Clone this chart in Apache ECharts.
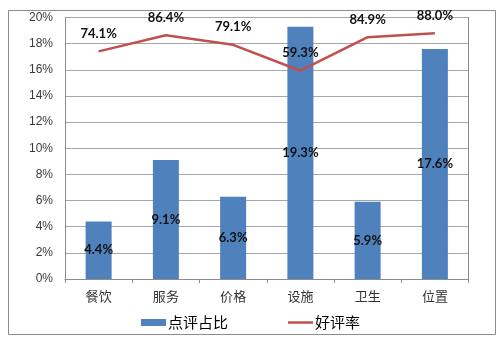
<!DOCTYPE html>
<html>
<head>
<meta charset="utf-8">
<script src="https://cdn.jsdelivr.net/npm/echarts@6/dist/echarts.min.js"></script>
<style>html,body{margin:0;padding:0;background:#fff}#c{width:501px;height:338px}</style>
</head>
<body>
<div id="c"></div>
<script>
var categories = ['餐饮', '服务', '价格', '设施', '卫生', '位置'];
var shareValues = [4.4, 9.1, 6.3, 19.3, 5.9, 17.6];
var goodRateValues = [74.1, 86.4, 79.1, 59.3, 84.9, 88.0];
var shareName = '点评占比';
var rateName = '好评率';

var chart = echarts.init(document.getElementById('c'), null, {renderer: 'canvas'});
var labelFont = {fontFamily: 'Lato', fontWeight: 'bold', fontSize: 13, color: '#111'};
chart.setOption({
  animation: false,
  backgroundColor: '#fff',
  graphic: [{
    type: 'rect', left: 6, top: 8, shape: {x: 0, y: 0, width: 487, height: 324},
    style: {fill: 'none', stroke: '#8c8c8c', lineWidth: 1}, z: -1
  }],
  grid: {left: 65, top: 17.5, right: 32.5, bottom: 59, containLabel: false},
  legend: [{
    left: 136, top: 310, itemWidth: 25, itemHeight: 7, itemGap: 2,
    data: [{name: shareName, icon: 'rect'}],
    textStyle: {fontFamily: 'Noto Sans CJK SC', fontSize: 15, color: '#000', padding: [0, 0, 0, -3]}
  }, {
    left: 283, top: 310, itemWidth: 25, itemHeight: 7,
    data: [{name: rateName, icon: 'path://M0,0H25V2.5H0Z'}],
    itemStyle: {color: '#C0504D'},
    textStyle: {fontFamily: 'Noto Sans CJK SC', fontSize: 15, color: '#000', padding: [0, 0, 0, -3]}
  }],
  xAxis: {
    type: 'category', data: categories, boundaryGap: true,
    axisLine: {lineStyle: {color: '#8c8c8c', width: 1}},
    axisTick: {show: true, length: 4, interval: 0, lineStyle: {color: '#8c8c8c'}},
    axisLabel: {fontFamily: 'Noto Sans CJK SC', fontSize: 13, color: '#333', margin: 11}
  },
  yAxis: [{
    type: 'value', min: 0, max: 20, interval: 2,
    axisLine: {show: true, lineStyle: {color: '#8c8c8c'}},
    axisTick: {show: false},
    splitLine: {lineStyle: {color: '#a6a6a6', width: 1}},
    axisLabel: {formatter: '{value}%', fontFamily: 'Liberation Sans', fontSize: 12, color: '#3a3a3a', margin: 12}
  }, {
    type: 'value', min: -100, max: 100, interval: 20,
    axisLine: {show: true, lineStyle: {color: '#8c8c8c'}},
    axisTick: {show: false},
    splitLine: {show: false},
    axisLabel: {show: false}
  }],
  series: [{
    name: shareName, type: 'bar', data: shareValues, barWidth: 26,
    itemStyle: {color: '#4F81BD'},
    label: Object.assign({show: true, position: 'inside', formatter: function (p) { return p.value.toFixed(1) + '%'; }}, labelFont)
  }, {
    name: rateName, type: 'line', yAxisIndex: 1, data: goodRateValues,
    symbol: 'circle', symbolSize: 0.1, showSymbol: true,
    lineStyle: {color: '#C0504D', width: 2.5}, itemStyle: {color: '#C0504D'},
    label: Object.assign({show: true, position: 'top', distance: 11, formatter: function (p) { return p.value.toFixed(1) + '%'; }}, labelFont)
  }]
});
</script>
</body>
</html>
